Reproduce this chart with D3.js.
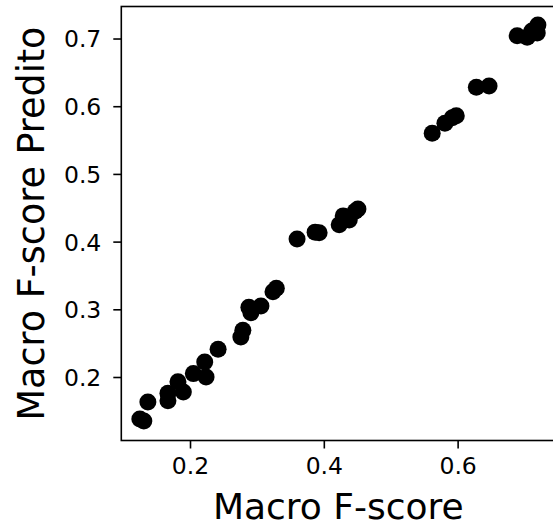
<!DOCTYPE html>
<html>
<head>
<meta charset="utf-8">
<script src="https://cdn.jsdelivr.net/npm/d3@7"></script>
<style>
  body { margin: 0; background: #fff; }
  svg { display: block; font-family: "DejaVu Sans", sans-serif; }
</style>
</head>
<body>
<script>
// valori: Macro F-score reale (x) e predetto (y)
const macroF = [0.125, 0.131, 0.137, 0.167, 0.167, 0.182, 0.190, 0.205, 0.222, 0.224,
  0.242, 0.276, 0.279, 0.288, 0.291, 0.306, 0.324, 0.329, 0.360, 0.387,
  0.393, 0.423, 0.429, 0.438, 0.447, 0.451, 0.562, 0.581, 0.592, 0.598,
  0.628, 0.647, 0.689, 0.704, 0.711, 0.719, 0.720];
const macroFPred = [0.138, 0.135, 0.163, 0.176, 0.165, 0.193, 0.178, 0.205, 0.222, 0.200,
  0.241, 0.259, 0.269, 0.303, 0.295, 0.305, 0.326, 0.331, 0.404, 0.414,
  0.413, 0.425, 0.438, 0.432, 0.445, 0.448, 0.560, 0.575, 0.583, 0.586,
  0.628, 0.630, 0.704, 0.702, 0.711, 0.708, 0.720];
const xTicks = [0.2, 0.4, 0.6];
const yTicks = [0.2, 0.3, 0.4, 0.5, 0.6, 0.7];

const points = macroF.map((v, i) => ({x: v, y: macroFPred[i]}));

const width = 553, height = 526;
// l'asse destro esce leggermente dalla finestra, come nell'originale
const margin = {left: 121.3, right: -2.3, top: 6.5, bottom: 85.5};

const svg = d3.select("body").append("svg")
  .attr("width", width)
  .attr("height", height);

const x = d3.scaleLinear()
  .domain([0.0973, 0.746])
  .range([margin.left, width - margin.right]);
const y = d3.scaleLinear()
  .domain([0.1062, 0.7473])
  .range([height - margin.bottom, margin.top]);

// punti
svg.append("g")
  .selectAll("circle")
  .data(points)
  .join("circle")
  .attr("cx", d => x(d.x))
  .attr("cy", d => y(d.y))
  .attr("r", 8.5)
  .attr("fill", "#000");

// assi
const xAxis = svg.append("g")
  .attr("transform", `translate(0,${height - margin.bottom})`)
  .call(d3.axisBottom(x).tickValues(xTicks).tickFormat(d3.format(".1f")).tickSizeOuter(0).tickSize(8).tickPadding(9));
const yAxis = svg.append("g")
  .attr("transform", `translate(${margin.left},0)`)
  .call(d3.axisLeft(y).tickValues(yTicks).tickFormat(d3.format(".1f")).tickSizeOuter(0).tickSize(8).tickPadding(12));

[xAxis, yAxis].forEach(a => {
  a.select(".domain").remove();
  a.selectAll(".tick line").attr("stroke", "#000").attr("stroke-width", 1.6);
  a.selectAll(".tick text")
    .attr("fill", "#000")
    .style("font-size", "23.5px")
    .style("font-family", "DejaVu Sans");
});
yAxis.selectAll(".tick text").attr("dy", "0.36em");

// cornice
svg.append("rect")
  .attr("x", margin.left)
  .attr("y", margin.top)
  .attr("width", width - margin.right - margin.left)
  .attr("height", height - margin.bottom - margin.top)
  .attr("fill", "none")
  .attr("stroke", "#000")
  .attr("stroke-width", 1.6);

// etichette
svg.append("text")
  .attr("x", (margin.left + width - margin.right) / 2)
  .attr("y", 519)
  .attr("text-anchor", "middle")
  .style("font-size", "36px")
  .text("Macro F-score");

svg.append("text")
  .attr("transform", `translate(44,${(margin.top + height - margin.bottom) / 2}) rotate(-90)`)
  .attr("text-anchor", "middle")
  .style("font-size", "36.5px")
  .text("Macro F-score Predito");
</script>
</body>
</html>
